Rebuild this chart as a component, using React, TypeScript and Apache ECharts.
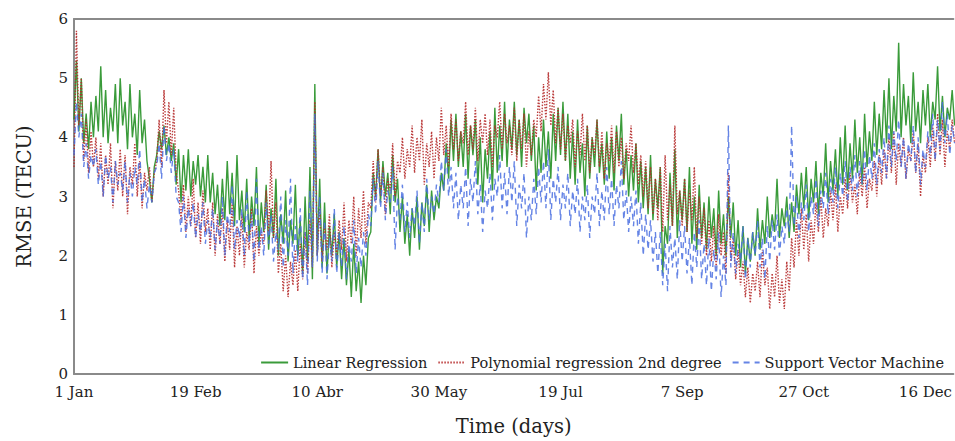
import React, { useEffect, useRef } from "react";
import * as echarts from "echarts";

const tickDays = [0, 50, 100, 150, 200, 250, 300, 350];
const tickLabels = ["1 Jan", "19 Feb", "10 Abr", "30 May", "19 Jul", "7 Sep", "27 Oct", "16 Dec"];

const seriesNames = ["Linear Regression", "Polynomial regression 2nd degree", "Support Vector Machine"];

const linearRegression = [
  4.3, 5.3, 4.1, 5.0, 3.9, 4.4, 3.8, 4.6, 4.0, 4.7,
  4.1, 5.2, 4.0, 4.8, 3.9, 4.5, 4.1, 4.9, 3.9, 5.0,
  4.2, 4.6, 3.8, 4.9, 4.0, 4.4, 3.7, 4.8, 3.9, 4.3,
  3.6, 3.3, 2.9, 3.5, 3.7, 4.1, 3.8, 4.2, 3.7, 4.0,
  3.6, 3.9, 3.2, 3.8, 2.9, 3.7, 3.1, 3.8, 3.0, 3.6,
  3.2, 3.7, 3.0, 3.5, 2.9, 3.7, 2.9, 3.4, 2.7, 3.2,
  2.5, 3.3, 2.6, 3.6, 2.7, 3.4, 2.5, 3.7, 2.6, 3.1,
  2.4, 3.3, 2.3, 3.0, 2.5, 3.5, 2.2, 2.9, 2.4, 3.2,
  2.1, 2.8, 2.3, 3.3, 2.0, 2.7, 2.2, 3.1, 1.9, 2.6,
  2.2, 3.2, 2.0, 2.6, 1.7, 3.0, 1.9, 3.5, 1.6, 4.9,
  2.0, 3.3, 1.8, 2.9, 1.7, 2.5, 2.0, 2.7, 1.8, 2.4,
  1.6, 2.3, 1.5, 2.1, 1.3, 2.2, 1.4, 1.9, 1.2, 2.0,
  1.5, 2.3, 2.4, 3.4, 3.0, 3.8, 2.9, 3.6, 3.0, 3.4,
  2.7, 3.7, 2.9, 3.3, 2.4, 3.0, 2.2, 2.7, 2.0, 2.8,
  2.3, 3.0, 2.1, 2.9, 2.5, 3.2, 2.4, 3.1, 2.6, 3.0,
  2.8, 3.4, 3.1, 3.9, 3.3, 4.3, 3.6, 4.4, 3.5, 4.1,
  3.5, 4.4, 3.3, 4.2, 3.7, 4.3, 3.2, 4.0, 2.9, 3.8,
  3.3, 4.1, 3.1, 4.5, 3.4, 4.2, 3.6, 4.6, 3.5, 4.3,
  3.8, 4.6, 3.7, 4.3, 3.5, 4.5, 3.9, 4.4, 3.6, 4.2,
  3.1, 4.0, 3.4, 4.3, 3.5, 4.1, 3.3, 4.4, 3.6, 4.5,
  3.7, 4.6, 3.6, 4.4, 3.3, 4.1, 3.2, 4.3, 3.4, 3.9,
  3.0, 4.2, 3.3, 4.0, 3.5, 4.3, 3.4, 3.9, 3.2, 4.1,
  3.3, 4.0, 3.1, 4.2, 3.6, 4.4, 3.2, 3.8, 3.0, 3.7,
  3.1, 3.9, 2.9, 3.6, 2.8, 3.5, 2.7, 3.7, 2.6, 3.3,
  2.8, 3.5, 1.7, 2.5, 2.2, 3.4, 2.5, 3.8, 2.3, 3.1,
  2.6, 3.3, 2.4, 3.5, 2.2, 3.0, 2.1, 3.2, 2.3, 2.9,
  2.1, 3.0, 2.3, 2.8, 2.0, 3.1, 2.2, 2.7, 2.0, 3.0,
  2.3, 2.9, 2.0, 2.6, 1.8, 2.5, 1.7, 2.3, 1.9, 2.4,
  2.0, 2.8, 2.1, 2.6, 2.2, 3.0, 2.3, 2.7, 2.4, 3.3,
  2.3, 2.8, 2.5, 3.0, 2.3, 2.9, 2.4, 3.2, 2.7, 3.4,
  2.8, 3.5, 2.6, 3.3, 2.9, 3.6, 2.7, 3.4, 3.0, 3.9,
  2.9, 3.6, 3.1, 3.8, 3.0, 4.0, 3.2, 4.2, 3.1, 3.9,
  3.3, 4.3, 3.4, 4.0, 3.2, 4.4, 3.5, 4.1, 3.6, 4.6,
  3.7, 4.4, 3.8, 4.8, 3.9, 5.0, 3.8, 4.7, 4.1, 5.6,
  4.0, 4.9, 4.2, 4.7, 3.9, 5.1, 4.1, 4.6, 3.9, 4.8,
  4.2, 4.9, 4.0, 4.6, 4.3, 5.2, 4.1, 4.7, 4.0, 4.5,
  4.3, 4.8, 4.2,
];

const polynomialRegression = [
  3.5, 5.8, 4.2, 5.0, 3.6, 4.3, 3.4, 4.1, 3.5, 4.0,
  3.3, 3.9, 3.0, 3.7, 3.2, 3.9, 2.8, 3.6, 3.1, 3.8,
  3.0, 3.7, 2.7, 3.5, 3.2, 3.9, 3.0, 3.6, 2.8, 3.4,
  3.1, 3.5, 2.9, 3.4, 3.6, 4.3, 3.5, 4.8, 3.9, 4.6,
  3.7, 4.5, 3.4, 3.1, 2.6, 3.2, 2.4, 3.0, 2.5, 3.3,
  2.3, 2.9, 2.2, 3.1, 2.4, 2.8, 2.1, 2.9, 2.0, 2.7,
  2.2, 2.8, 1.9, 2.6, 2.1, 2.9, 1.8, 2.5, 2.0, 2.7,
  1.8, 2.4, 2.1, 2.8, 1.7, 2.5, 2.0, 2.4, 2.2, 3.1,
  2.4, 3.6, 2.3, 2.9, 1.7, 2.2, 1.4, 2.0, 1.3, 1.9,
  1.5, 2.1, 1.4, 2.2, 1.6, 2.4, 1.7, 2.6, 1.8, 4.6,
  2.0, 2.8, 1.9, 2.5, 2.1, 2.7, 1.8, 2.4, 2.0, 2.6,
  2.1, 2.9, 1.9, 2.6, 2.2, 3.0, 2.0, 2.8, 2.3, 3.1,
  2.2, 2.9, 2.8, 3.6, 2.9, 3.8, 3.0, 3.5, 2.7, 3.3,
  3.1, 3.9, 3.0, 3.6, 3.4, 4.0, 3.3, 3.8, 3.5, 4.2,
  3.4, 4.0, 3.6, 4.3, 3.2, 3.9, 3.5, 4.1, 3.3, 4.0,
  3.6, 4.5, 3.7, 4.2, 3.5, 4.4, 3.8, 4.3, 3.6, 4.1,
  3.9, 4.6, 3.7, 4.2, 3.8, 4.5, 3.6, 4.3, 3.9, 4.4,
  3.7, 4.3, 3.5, 4.2, 4.0, 4.6, 3.8, 4.4, 3.9, 4.2,
  3.7, 4.5, 3.6, 4.3, 3.8, 4.4, 3.5, 4.1, 3.7, 4.3,
  4.0, 4.7, 4.1, 4.9, 4.3, 5.1, 4.2, 4.8, 3.9, 4.5,
  3.8, 4.4, 3.6, 4.2, 3.9, 4.3, 3.5, 4.1, 3.7, 4.4,
  3.6, 4.2, 3.4, 4.0, 3.7, 4.3, 3.5, 4.1, 3.3, 3.9,
  3.6, 4.2, 3.4, 4.1, 3.5, 4.0, 3.3, 3.9, 3.6, 4.2,
  3.4, 3.9, 3.2, 3.7, 3.0, 3.6, 2.8, 3.5, 2.7, 3.3,
  2.6, 3.5, 2.4, 3.7, 2.6, 3.2, 2.5, 4.2, 2.7, 3.1,
  2.5, 3.3, 2.4, 3.1, 2.6, 3.5, 2.3, 3.0, 2.2, 2.8,
  2.0, 2.6, 1.9, 2.5, 1.8, 2.7, 2.0, 2.4, 1.7, 3.4,
  1.9, 2.3, 1.6, 2.1, 1.5, 1.9, 1.3, 1.8, 1.2, 1.7,
  1.4, 1.9, 1.3, 2.1, 1.5, 1.8, 1.1, 1.7, 1.3, 2.0,
  1.2, 1.6, 1.1, 1.9, 1.4, 2.3, 1.8, 2.6, 2.0, 2.8,
  2.1, 2.7, 1.9, 2.6, 2.2, 2.9, 2.4, 3.0, 2.3, 2.8,
  2.5, 3.1, 2.6, 3.2, 2.4, 3.0, 2.7, 3.3, 2.8, 3.4,
  2.9, 3.2, 2.7, 3.4, 3.0, 3.5, 2.8, 3.3, 3.1, 3.6,
  3.0, 3.7, 3.2, 3.8, 3.3, 4.0, 3.4, 4.1, 3.2, 3.9,
  3.5, 4.0, 3.3, 3.8, 3.6, 4.1, 3.4, 3.9, 3.0, 3.7,
  3.4, 4.0, 3.5, 4.2, 3.6, 4.4, 3.7, 4.3, 3.5, 4.1,
  3.8, 4.3, 3.9,
];

const supportVectorMachine = [
  3.7, 4.6, 4.0, 4.4, 3.5, 3.9, 3.3, 3.7, 3.5, 3.8,
  3.2, 3.6, 3.0, 3.7, 3.3, 3.5, 2.9, 3.6, 3.2, 3.4,
  3.1, 3.6, 2.9, 3.4, 3.0, 3.5, 3.2, 3.8, 2.9, 3.3,
  2.8, 3.2, 2.9, 3.4, 3.5, 3.9, 3.3, 4.2, 3.6, 3.9,
  3.4, 3.8, 3.0, 2.9, 2.4, 3.0, 2.3, 2.8, 2.5, 2.9,
  2.3, 2.7, 2.4, 2.9, 2.2, 2.6, 2.3, 2.8, 2.1, 2.6,
  2.2, 3.0, 2.0, 2.7, 2.4, 3.2, 2.1, 2.6, 2.3, 2.8,
  2.0, 3.1, 2.2, 2.7, 1.9, 3.3, 2.1, 2.5, 2.0, 2.9,
  2.2, 2.7, 1.9, 2.4, 2.1, 3.0, 1.8, 2.6, 2.0, 3.3,
  1.7, 2.5, 1.9, 2.8, 1.6, 2.4, 1.5, 3.1, 1.8, 4.4,
  1.9, 3.0, 1.7, 2.6, 1.6, 2.3, 1.9, 2.8, 1.7, 2.4,
  1.8, 2.5, 1.6, 2.2, 1.9, 2.6, 1.7, 2.3, 1.8, 2.4,
  2.0, 2.7, 2.5, 3.3, 2.7, 3.6, 2.8, 3.4, 2.6, 3.1,
  2.9, 3.5, 2.1, 3.0, 2.6, 3.2, 2.4, 2.9, 2.3, 2.8,
  2.5, 3.1, 2.2, 2.9, 2.4, 3.3, 2.6, 3.0, 2.7, 3.2,
  2.9, 3.6, 3.1, 3.8, 3.0, 3.5, 2.8, 3.4, 2.6, 3.2,
  2.8, 3.5, 2.5, 3.3, 2.9, 3.6, 2.7, 3.2, 2.4, 3.1,
  2.8, 3.4, 2.6, 3.3, 3.0, 3.7, 2.8, 3.4, 2.7, 3.5,
  2.9, 3.6, 2.5, 3.2, 2.8, 3.4, 2.3, 3.0, 2.6, 3.3,
  2.7, 3.5, 2.9, 3.6, 2.8, 3.8, 2.6, 3.3, 2.9, 3.5,
  2.6, 3.2, 2.8, 3.4, 2.5, 3.1, 2.7, 3.3, 2.4, 3.0,
  2.6, 3.2, 2.3, 3.0, 2.7, 3.4, 2.5, 3.1, 2.6, 3.5,
  2.7, 3.3, 2.5, 3.2, 2.8, 3.6, 2.6, 3.1, 2.4, 3.0,
  2.5, 3.1, 2.2, 2.9, 2.0, 2.7, 2.1, 2.6, 1.9, 2.4,
  1.7, 2.4, 1.5, 2.2, 1.4, 2.5, 1.8, 2.3, 1.6, 2.6,
  1.9, 2.5, 1.7, 2.3, 1.5, 2.4, 1.8, 2.6, 1.6, 2.2,
  1.5, 2.3, 1.4, 2.1, 1.6, 2.4, 1.3, 2.0, 1.5, 4.2,
  1.8, 2.4, 1.7, 2.2, 1.9, 2.5, 1.6, 2.3, 1.8, 2.4,
  2.0, 2.6, 1.8, 2.3, 1.6, 2.5, 1.9, 2.6, 2.1, 2.7,
  2.0, 2.5, 2.2, 2.8, 2.4, 4.2, 2.5, 3.0, 2.3, 2.9,
  2.6, 3.2, 2.4, 3.0, 2.7, 3.3, 2.5, 3.1, 2.8, 3.4,
  2.7, 3.3, 2.9, 3.5, 2.8, 3.4, 3.0, 3.6, 2.9, 3.5,
  3.1, 3.7, 3.0, 3.6, 3.2, 3.8, 3.1, 3.7, 3.3, 3.9,
  3.2, 3.8, 3.4, 4.0, 3.3, 4.2, 3.5, 4.1, 3.6, 4.3,
  3.5, 4.0, 3.3, 3.9, 3.6, 4.2, 3.4, 4.0, 3.2, 3.8,
  3.5, 4.1, 3.7, 4.4, 3.6, 4.3, 3.8, 4.6, 3.9, 4.4,
  3.7, 4.2, 3.9,
];

const FONT = "DejaVu Serif";

export default function App() {
  const ref = useRef<HTMLDivElement>(null);

  useEffect(() => {
    if (!ref.current) return;
    const chart = echarts.init(ref.current, undefined, { renderer: "svg" });
    const toPairs = (arr: number[]) => arr.map((v, i) => [i, v]);
    const axisLineStyle = { color: "#8a8a8a", width: 2 };

    chart.setOption({
      animation: false,
      backgroundColor: "#ffffff",
      grid: { left: 74, right: 0, top: 19, bottom: 62, containLabel: false },
      legend: {
        data: seriesNames,
        right: 6,
        top: 350,
        itemWidth: 27,
        itemHeight: 10,
        itemGap: 10,
        itemStyle: { opacity: 0 },
        textStyle: { fontFamily: FONT, fontSize: 14.5, color: "#222" },
      },
      xAxis: [
        {
          type: "value",
          min: 0,
          max: 361.5,
          interval: 50,
          name: "Time (days)",
          nameLocation: "middle",
          nameGap: 42,
          nameTextStyle: { fontFamily: FONT, fontSize: 19.5, color: "#222" },
          axisLine: { show: true, lineStyle: axisLineStyle },
          axisTick: { show: false },
          splitLine: { show: false },
          axisLabel: {
            fontFamily: FONT,
            fontSize: 15,
            color: "#222",
            margin: 10,
            showMaxLabel: false,
            formatter: (v: number) => {
              const idx = tickDays.indexOf(Math.round(v));
              return idx >= 0 ? tickLabels[idx] : "";
            },
          },
        },
        {
          type: "value",
          position: "top",
          min: 0,
          max: 361.5,
          axisLine: { show: true, onZero: false, lineStyle: axisLineStyle },
          axisTick: { show: false },
          axisLabel: { show: false },
          splitLine: { show: false },
        },
      ],
      yAxis: {
        type: "value",
        min: 0,
        max: 6,
        interval: 1,
        name: "RMSE (TECU)",
        nameLocation: "middle",
        nameGap: 40,
        nameTextStyle: { fontFamily: FONT, fontSize: 19.5, color: "#222" },
        axisLine: { show: true, lineStyle: axisLineStyle },
        axisTick: { show: false },
        splitLine: { show: false },
        axisLabel: { fontFamily: FONT, fontSize: 15, color: "#222", margin: 6 },
      },
      series: [
        {
          name: seriesNames[0],
          type: "line",
          data: toPairs(linearRegression),
          showSymbol: false,
          symbol: "none",
          color: "#188a18",
          lineStyle: { width: 1.4, color: "#188a18", opacity: 0.85, type: "solid" },
        },
        {
          name: seriesNames[1],
          type: "line",
          data: toPairs(polynomialRegression),
          showSymbol: false,
          symbol: "none",
          color: "#b52a2a",
          lineStyle: { width: 1.4, color: "#b52a2a", opacity: 0.9, type: [1.5, 1.5] },
        },
        {
          name: seriesNames[2],
          type: "line",
          data: toPairs(supportVectorMachine),
          showSymbol: false,
          symbol: "none",
          color: "#4a6fe0",
          lineStyle: { width: 1.4, color: "#4a6fe0", opacity: 0.85, type: [6, 5] },
        },
      ],
    });

    return () => chart.dispose();
  }, []);

  return (
    <div
      ref={ref}
      style={{ position: "fixed", left: 0, top: 0, width: 955, height: 441, background: "#fff" }}
    />
  );
}
